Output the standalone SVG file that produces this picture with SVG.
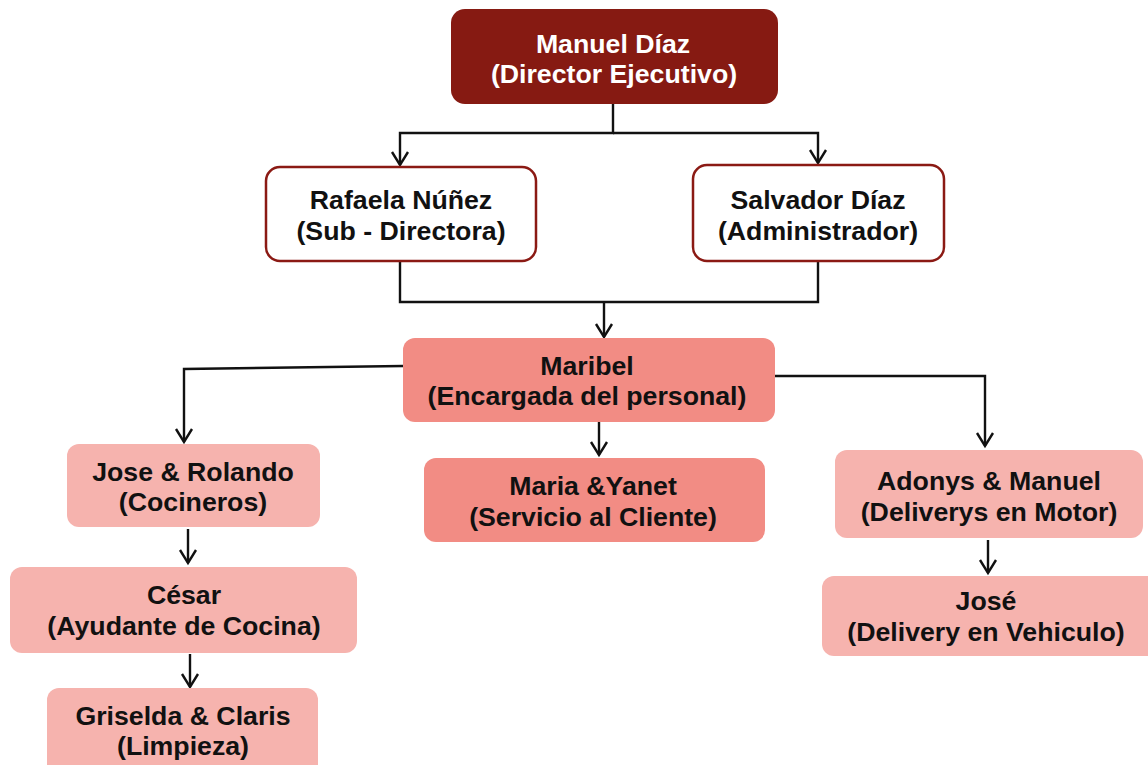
<svg xmlns="http://www.w3.org/2000/svg" width="1148" height="765" viewBox="0 0 1148 765">
<style>
text{font-family:"Liberation Sans",Arial,sans-serif;font-weight:bold;font-size:26.7px;text-anchor:middle}
.w{fill:#ffffff}
.k{fill:#111111}
.dark{fill:#861A12}
.out{fill:#ffffff;stroke:#8B1A14;stroke-width:2.5}
.mid{fill:#F28C84}
.light{fill:#F6B3AE}
.c{fill:none;stroke:#111111;stroke-width:2.4}
</style>
<defs>
<marker id="ar" markerUnits="userSpaceOnUse" markerWidth="22" markerHeight="22" refX="15" refY="11" orient="auto">
<path d="M2,3 L15,11 L2,19" fill="none" stroke="#111111" stroke-width="2.4"/>
</marker>
</defs>
<rect width="1148" height="765" fill="#ffffff"/>
<g id="connectors">
<path class="c" d="M613,104 V133 H400 V165" marker-end="url(#ar)"/>
<path class="c" d="M613,133 H818 V163" marker-end="url(#ar)"/>
<path class="c" d="M400,261 V302 H818 V261"/>
<path class="c" d="M604,302 V337" marker-end="url(#ar)"/>
<path class="c" d="M403,366 L184,369 V442" marker-end="url(#ar)"/>
<path class="c" d="M599,422 V455" marker-end="url(#ar)"/>
<path class="c" d="M775,376 H985 V446" marker-end="url(#ar)"/>
<path class="c" d="M188,529 V563" marker-end="url(#ar)"/>
<path class="c" d="M190,654 V687" marker-end="url(#ar)"/>
<path class="c" d="M988,540 V573" marker-end="url(#ar)"/>
</g>
<g id="n-manuel">
<rect class="dark" x="451" y="9" width="327" height="95" rx="14"/>
<text class="w" x="613" y="53">Manuel Díaz</text>
<text class="w" x="614" y="83">(Director Ejecutivo)</text>
</g>
<g id="n-rafaela">
<rect class="out" x="266" y="167" width="270" height="94" rx="14"/>
<text class="k" x="401" y="209">Rafaela Núñez</text>
<text class="k" x="401" y="240">(Sub - Directora)</text>
</g>
<g id="n-salvador">
<rect class="out" x="693" y="165" width="251" height="96" rx="14"/>
<text class="k" x="818" y="209">Salvador Díaz</text>
<text class="k" x="818" y="240">(Administrador)</text>
</g>
<g id="n-maribel">
<rect class="mid" x="403" y="338" width="372" height="84" rx="12"/>
<text class="k" x="587" y="375">Maribel</text>
<text class="k" x="587" y="405">(Encargada del personal)</text>
</g>
<g id="n-jose-rolando">
<rect class="light" x="67" y="444" width="253" height="83" rx="12"/>
<text class="k" x="193" y="481">Jose &amp; Rolando</text>
<text class="k" x="193" y="511">(Cocineros)</text>
</g>
<g id="n-maria-yanet">
<rect class="mid" x="424" y="458" width="341" height="84" rx="12"/>
<text class="k" x="593" y="495">Maria &amp;Yanet</text>
<text class="k" x="593" y="526">(Servicio al Cliente)</text>
</g>
<g id="n-adonys">
<rect class="light" x="835" y="450" width="308" height="88" rx="12"/>
<text class="k" x="989" y="490">Adonys &amp; Manuel</text>
<text class="k" x="989" y="521">(Deliverys en Motor)</text>
</g>
<g id="n-cesar">
<rect class="light" x="10" y="567" width="347" height="86" rx="12"/>
<text class="k" x="184" y="604">César</text>
<text class="k" x="184" y="635">(Ayudante de Cocina)</text>
</g>
<g id="n-griselda">
<rect class="light" x="47" y="688" width="271" height="90" rx="12"/>
<text class="k" x="183" y="725">Griselda &amp; Claris</text>
<text class="k" x="183" y="755">(Limpieza)</text>
</g>
<g id="n-jose">
<rect class="light" x="822" y="576" width="340" height="80" rx="12"/>
<text class="k" x="986" y="610">José</text>
<text class="k" x="986" y="641">(Delivery en Vehiculo)</text>
</g>
</svg>
